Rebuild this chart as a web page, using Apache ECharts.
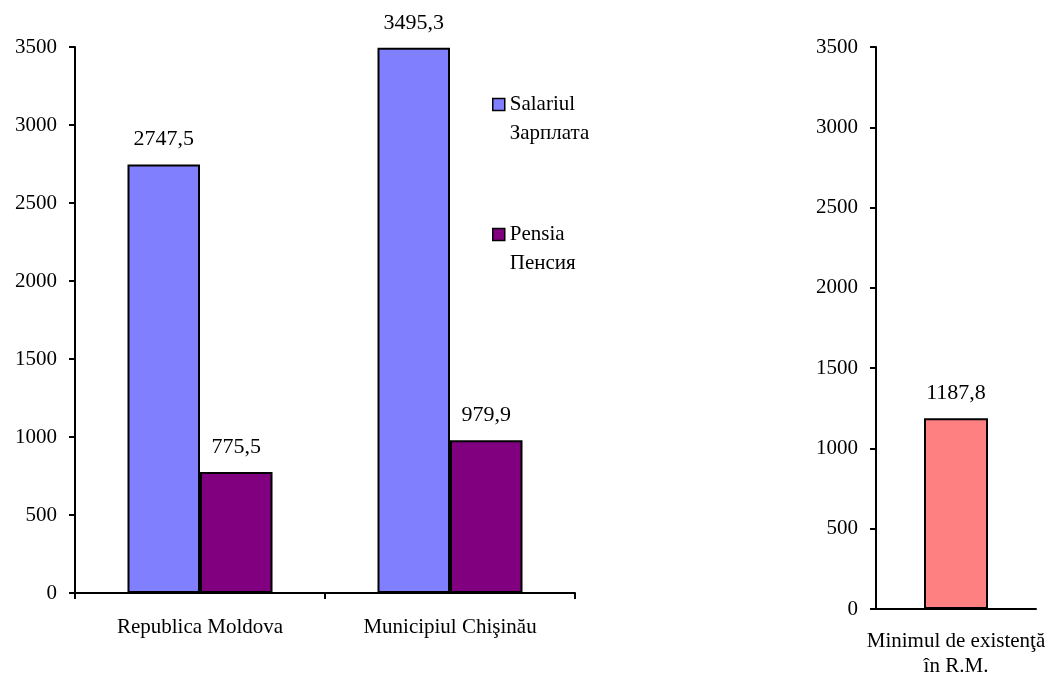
<!DOCTYPE html>
<html lang="ro">
<head>
<meta charset="UTF-8">
<title>Salariul si pensia</title>
<script src="https://cdn.jsdelivr.net/npm/echarts@6/dist/echarts.min.js"></script>
<style>
    html, body { margin: 0; padding: 0; background: #fff; }
    #chart { width: 1052px; height: 682px; }
</style>
</head>
<body>
<div id="chart"></div>
<script>
    var regions = ['Republica Moldova', 'Municipiul Chişinău'];
    var salariu = [2747.5, 3495.3];
    var pensie = [775.5, 979.9];
    var minimCats = ['Minimul de existenţă\nîn R.M.'];
    var minim = [1187.8];

    var FONT = 'Liberation Serif';
    var FS = 22;

    function comma(p) {
        return String(p.value).replace('.', ',');
    }

    function yAxis(idx) {
        return {
            type: 'value',
            gridIndex: idx,
            min: 0, max: 3500, interval: 500,
            splitLine: { show: false },
            axisLine: { show: true, lineStyle: { color: '#000', width: 2 } },
            axisTick: { show: true, length: 6, lineStyle: { color: '#000', width: 2 } },
            axisLabel: {
                color: '#000', fontFamily: FONT, fontSize: FS - 1, margin: 18,
                formatter: function (v) { return String(v); }
            }
        };
    }

    var labelTop = {
        show: true, position: 'top', distance: 14,
        color: '#000', fontFamily: FONT, fontSize: FS,
        formatter: comma
    };

    var chart = echarts.init(document.getElementById('chart'));
    chart.setOption({
        animation: false,
        grid: [
            { left: 75, right: 477, top: 47, bottom: 89 },
            { left: 876, right: 16, top: 47, bottom: 73 }
        ],
        legend: {
            orient: 'vertical',
            left: 487, top: 56,
            icon: 'rect',
            itemWidth: 12, itemHeight: 12,
            itemGap: 43,
            data: ['Salariul', 'Pensia'],
            formatter: function (name) {
                return name === 'Salariul' ? '\nSalariul\nЗарплата' : '\nPensia\nПенсия';
            },
            textStyle: { color: '#000', fontFamily: FONT, fontSize: FS - 1, lineHeight: 29 },
            itemStyle: { borderColor: '#000', borderWidth: 1.5 }
        },
        xAxis: [
            {
                type: 'category', gridIndex: 0, data: regions,
                axisLine: { lineStyle: { color: '#000', width: 2 } },
                axisTick: { show: true, interval: 0, length: 6, lineStyle: { color: '#000', width: 2 } },
                axisLabel: { color: '#000', fontFamily: FONT, fontSize: FS - 1, margin: 24 }
            },
            {
                type: 'category', gridIndex: 1, data: minimCats,
                axisLine: { lineStyle: { color: '#000', width: 2 } },
                axisTick: { show: false },
                axisLabel: { color: '#000', fontFamily: FONT, fontSize: FS - 1, margin: 20, lineHeight: 25 }
            }
        ],
        yAxis: [yAxis(0), yAxis(1)],
        series: [
            {
                name: 'Salariul', type: 'bar', xAxisIndex: 0, yAxisIndex: 0,
                data: salariu, barCategoryGap: '42%', barGap: '0%',
                itemStyle: { color: '#8080FF', borderColor: '#000', borderWidth: 2 },
                label: labelTop
            },
            {
                name: 'Pensia', type: 'bar', xAxisIndex: 0, yAxisIndex: 0,
                data: pensie, barCategoryGap: '42%', barGap: '0%',
                itemStyle: { color: '#800080', borderColor: '#000', borderWidth: 2 },
                label: labelTop
            },
            {
                name: 'Minimul', type: 'bar', xAxisIndex: 1, yAxisIndex: 1,
                data: minim, barWidth: 64,
                itemStyle: { color: '#FF8080', borderColor: '#000', borderWidth: 2 },
                label: labelTop
            }
        ]
    });
</script>
</body>
</html>
